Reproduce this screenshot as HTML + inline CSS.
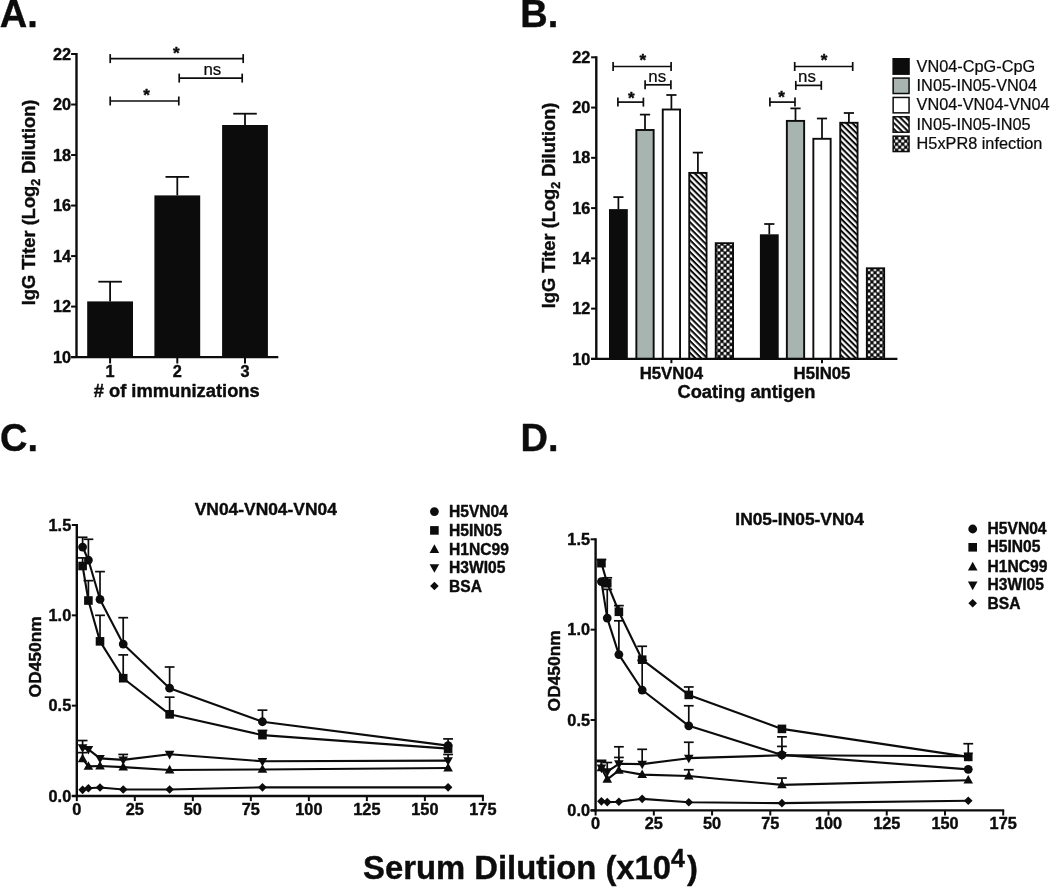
<!DOCTYPE html>
<html lang="en"><head><meta charset="utf-8"><title>Figure</title>
<style>html,body{margin:0;padding:0;background:#fff}body{width:1050px;height:887px;overflow:hidden}svg{display:block;will-change:transform;font-family:"Liberation Sans",sans-serif;fill:#0c0c0c}text{stroke:#0c0c0c;stroke-width:.4px;stroke-linejoin:round}text[font-weight=normal]{stroke-width:.22px}</style></head><body>
<svg width="1050" height="887" viewBox="0 0 1050 887">
<defs>
<pattern id="hatch" width="4.2" height="4.2" patternUnits="userSpaceOnUse" patternTransform="rotate(45)"><rect width="4.2" height="4.2" fill="#fff"/><rect width="4.2" height="2.05" fill="#0c0c0c"/></pattern>
<pattern id="chk1" width="6.09" height="6.09" patternUnits="userSpaceOnUse" x="717.4" y="248.5"><rect width="6.09" height="6.09" fill="#0c0c0c"/><rect x="0.2" y="0.2" width="2.645" height="2.645" fill="#fff"/><rect x="3.245" y="3.245" width="2.645" height="2.645" fill="#fff"/></pattern>
<pattern id="chk2" width="6.09" height="6.09" patternUnits="userSpaceOnUse" x="867.4" y="322.9"><rect width="6.09" height="6.09" fill="#0c0c0c"/><rect x="0.2" y="0.2" width="2.645" height="2.645" fill="#fff"/><rect x="3.245" y="3.245" width="2.645" height="2.645" fill="#fff"/></pattern>
<pattern id="chk3" width="6.09" height="6.09" patternUnits="userSpaceOnUse" x="895.1" y="139.6"><rect width="6.09" height="6.09" fill="#0c0c0c"/><rect x="0.2" y="0.2" width="2.645" height="2.645" fill="#fff"/><rect x="3.245" y="3.245" width="2.645" height="2.645" fill="#fff"/></pattern>
</defs>
<rect width="1050" height="887" fill="#ffffff"/>
<text x="-0.3" y="27" font-size="38" font-weight="bold" text-anchor="start">A.</text>
<text x="520.3" y="27.3" font-size="38" font-weight="bold" text-anchor="start">B.</text>
<text x="0" y="451" font-size="38" font-weight="bold" text-anchor="start">C.</text>
<text x="520.5" y="451.1" font-size="38" font-weight="bold" text-anchor="start">D.</text>
<line x1="110.1" y1="301.4" x2="110.1" y2="281.7" stroke="#0c0c0c" stroke-width="1.8" stroke-linecap="butt"/>
<line x1="98.3" y1="281.7" x2="121.9" y2="281.7" stroke="#0c0c0c" stroke-width="1.8" stroke-linecap="butt"/>
<rect x="87.2" y="301.4" width="45.8" height="55.7" fill="#0c0c0c"/>
<line x1="177.3" y1="195.4" x2="177.3" y2="176.9" stroke="#0c0c0c" stroke-width="1.8" stroke-linecap="butt"/>
<line x1="165.5" y1="176.9" x2="189.1" y2="176.9" stroke="#0c0c0c" stroke-width="1.8" stroke-linecap="butt"/>
<rect x="154.4" y="195.4" width="45.8" height="161.7" fill="#0c0c0c"/>
<line x1="245" y1="125" x2="245" y2="113.7" stroke="#0c0c0c" stroke-width="1.8" stroke-linecap="butt"/>
<line x1="233.2" y1="113.7" x2="256.8" y2="113.7" stroke="#0c0c0c" stroke-width="1.8" stroke-linecap="butt"/>
<rect x="222.1" y="125" width="45.8" height="232.1" fill="#0c0c0c"/>
<line x1="76.5" y1="53" x2="76.5" y2="358.1" stroke="#0c0c0c" stroke-width="2.4" stroke-linecap="butt"/>
<line x1="71.1" y1="357.1" x2="278.3" y2="357.1" stroke="#0c0c0c" stroke-width="2.4" stroke-linecap="butt"/>
<line x1="71.1" y1="357.1" x2="76.5" y2="357.1" stroke="#0c0c0c" stroke-width="2" stroke-linecap="butt"/>
<text x="71" y="362.7" font-size="16.3" font-weight="bold" text-anchor="end">10</text>
<line x1="71.1" y1="306.58" x2="76.5" y2="306.58" stroke="#0c0c0c" stroke-width="2" stroke-linecap="butt"/>
<text x="71" y="312.18" font-size="16.3" font-weight="bold" text-anchor="end">12</text>
<line x1="71.1" y1="256.07" x2="76.5" y2="256.07" stroke="#0c0c0c" stroke-width="2" stroke-linecap="butt"/>
<text x="71" y="261.67" font-size="16.3" font-weight="bold" text-anchor="end">14</text>
<line x1="71.1" y1="205.55" x2="76.5" y2="205.55" stroke="#0c0c0c" stroke-width="2" stroke-linecap="butt"/>
<text x="71" y="211.15" font-size="16.3" font-weight="bold" text-anchor="end">16</text>
<line x1="71.1" y1="155.03" x2="76.5" y2="155.03" stroke="#0c0c0c" stroke-width="2" stroke-linecap="butt"/>
<text x="71" y="160.63" font-size="16.3" font-weight="bold" text-anchor="end">18</text>
<line x1="71.1" y1="104.52" x2="76.5" y2="104.52" stroke="#0c0c0c" stroke-width="2" stroke-linecap="butt"/>
<text x="71" y="110.12" font-size="16.3" font-weight="bold" text-anchor="end">20</text>
<line x1="71.1" y1="54" x2="76.5" y2="54" stroke="#0c0c0c" stroke-width="2" stroke-linecap="butt"/>
<text x="71" y="59.6" font-size="16.3" font-weight="bold" text-anchor="end">22</text>
<line x1="110.1" y1="357.1" x2="110.1" y2="363.5" stroke="#0c0c0c" stroke-width="2" stroke-linecap="butt"/>
<text x="110.1" y="376.9" font-size="16.3" font-weight="bold" text-anchor="middle">1</text>
<line x1="177.3" y1="357.1" x2="177.3" y2="363.5" stroke="#0c0c0c" stroke-width="2" stroke-linecap="butt"/>
<text x="177.3" y="376.9" font-size="16.3" font-weight="bold" text-anchor="middle">2</text>
<line x1="245" y1="357.1" x2="245" y2="363.5" stroke="#0c0c0c" stroke-width="2" stroke-linecap="butt"/>
<text x="245" y="376.9" font-size="16.3" font-weight="bold" text-anchor="middle">3</text>
<text x="176.7" y="396.5" font-size="18.35" font-weight="bold" text-anchor="middle"># of immunizations</text>
<text transform="translate(34.6,202.4) rotate(-90)" font-size="18.3" font-weight="bold" text-anchor="middle">IgG Titer (Log<tspan font-size="12.5" dy="5.0">2</tspan><tspan dy="-5.0"> Dilution)</tspan></text>
<line x1="110.2" y1="58.6" x2="243.2" y2="58.6" stroke="#0c0c0c" stroke-width="1.7" stroke-linecap="butt"/>
<line x1="110.2" y1="54.1" x2="110.2" y2="63.1" stroke="#0c0c0c" stroke-width="1.7" stroke-linecap="butt"/>
<line x1="243.2" y1="54.1" x2="243.2" y2="63.1" stroke="#0c0c0c" stroke-width="1.7" stroke-linecap="butt"/>
<text x="176.2" y="58.9" font-size="17" font-weight="bold" text-anchor="middle">*</text>
<line x1="179.2" y1="78.1" x2="242.2" y2="78.1" stroke="#0c0c0c" stroke-width="1.7" stroke-linecap="butt"/>
<line x1="179.2" y1="73.6" x2="179.2" y2="82.6" stroke="#0c0c0c" stroke-width="1.7" stroke-linecap="butt"/>
<line x1="242.2" y1="73.6" x2="242.2" y2="82.6" stroke="#0c0c0c" stroke-width="1.7" stroke-linecap="butt"/>
<text x="212.4" y="74.7" font-size="16.9" font-weight="normal" text-anchor="middle">ns</text>
<line x1="110.2" y1="101" x2="178.8" y2="101" stroke="#0c0c0c" stroke-width="1.7" stroke-linecap="butt"/>
<line x1="110.2" y1="96.5" x2="110.2" y2="105.5" stroke="#0c0c0c" stroke-width="1.7" stroke-linecap="butt"/>
<line x1="178.8" y1="96.5" x2="178.8" y2="105.5" stroke="#0c0c0c" stroke-width="1.7" stroke-linecap="butt"/>
<text x="146.5" y="100.8" font-size="17" font-weight="bold" text-anchor="middle">*</text>
<line x1="618.4" y1="209.1" x2="618.4" y2="197.1" stroke="#0c0c0c" stroke-width="1.75" stroke-linecap="butt"/>
<line x1="613.3" y1="197.1" x2="623.5" y2="197.1" stroke="#0c0c0c" stroke-width="1.75" stroke-linecap="butt"/>
<rect x="609" y="209.1" width="18.8" height="149.8" fill="#0c0c0c"/>
<line x1="645" y1="129.4" x2="645" y2="114.6" stroke="#0c0c0c" stroke-width="1.75" stroke-linecap="butt"/>
<line x1="639.9" y1="114.6" x2="650.1" y2="114.6" stroke="#0c0c0c" stroke-width="1.75" stroke-linecap="butt"/>
<rect x="636.35" y="130" width="17.3" height="228.9" fill="#a8b4b0" stroke="#0c0c0c" stroke-width="1.9"/>
<line x1="671.4" y1="108.9" x2="671.4" y2="95" stroke="#0c0c0c" stroke-width="1.75" stroke-linecap="butt"/>
<line x1="666.3" y1="95" x2="676.5" y2="95" stroke="#0c0c0c" stroke-width="1.75" stroke-linecap="butt"/>
<rect x="662.75" y="109.5" width="17.3" height="249.4" fill="#ffffff" stroke="#0c0c0c" stroke-width="1.9"/>
<line x1="697.9" y1="172.3" x2="697.9" y2="152.6" stroke="#0c0c0c" stroke-width="1.75" stroke-linecap="butt"/>
<line x1="692.8" y1="152.6" x2="703" y2="152.6" stroke="#0c0c0c" stroke-width="1.75" stroke-linecap="butt"/>
<rect x="689.25" y="172.9" width="17.3" height="186" fill="url(#hatch)" stroke="#0c0c0c" stroke-width="1.9"/>
<rect x="715.75" y="243.2" width="17.3" height="115.7" fill="url(#chk1)" stroke="#0c0c0c" stroke-width="1.9"/>
<line x1="769.3" y1="234.3" x2="769.3" y2="224" stroke="#0c0c0c" stroke-width="1.75" stroke-linecap="butt"/>
<line x1="764.2" y1="224" x2="774.4" y2="224" stroke="#0c0c0c" stroke-width="1.75" stroke-linecap="butt"/>
<rect x="759.9" y="234.3" width="18.8" height="124.6" fill="#0c0c0c"/>
<line x1="795.5" y1="120.3" x2="795.5" y2="108.4" stroke="#0c0c0c" stroke-width="1.75" stroke-linecap="butt"/>
<line x1="790.4" y1="108.4" x2="800.6" y2="108.4" stroke="#0c0c0c" stroke-width="1.75" stroke-linecap="butt"/>
<rect x="786.85" y="120.9" width="17.3" height="238" fill="#a8b4b0" stroke="#0c0c0c" stroke-width="1.9"/>
<line x1="822" y1="138.2" x2="822" y2="118.5" stroke="#0c0c0c" stroke-width="1.75" stroke-linecap="butt"/>
<line x1="816.9" y1="118.5" x2="827.1" y2="118.5" stroke="#0c0c0c" stroke-width="1.75" stroke-linecap="butt"/>
<rect x="813.35" y="138.8" width="17.3" height="220.1" fill="#ffffff" stroke="#0c0c0c" stroke-width="1.9"/>
<line x1="848.9" y1="122.2" x2="848.9" y2="113" stroke="#0c0c0c" stroke-width="1.75" stroke-linecap="butt"/>
<line x1="843.8" y1="113" x2="854" y2="113" stroke="#0c0c0c" stroke-width="1.75" stroke-linecap="butt"/>
<rect x="840.25" y="122.8" width="17.3" height="236.1" fill="url(#hatch)" stroke="#0c0c0c" stroke-width="1.9"/>
<rect x="866.85" y="268.3" width="17.3" height="90.6" fill="url(#chk2)" stroke="#0c0c0c" stroke-width="1.9"/>
<line x1="596.3" y1="56.3" x2="596.3" y2="359.9" stroke="#0c0c0c" stroke-width="2.4" stroke-linecap="butt"/>
<line x1="591.1" y1="358.9" x2="897.4" y2="358.9" stroke="#0c0c0c" stroke-width="2.4" stroke-linecap="butt"/>
<line x1="591.1" y1="358.9" x2="596.3" y2="358.9" stroke="#0c0c0c" stroke-width="2" stroke-linecap="butt"/>
<text x="590.4" y="364.5" font-size="16.3" font-weight="bold" text-anchor="end">10</text>
<line x1="591.1" y1="308.63" x2="596.3" y2="308.63" stroke="#0c0c0c" stroke-width="2" stroke-linecap="butt"/>
<text x="590.4" y="314.23" font-size="16.3" font-weight="bold" text-anchor="end">12</text>
<line x1="591.1" y1="258.37" x2="596.3" y2="258.37" stroke="#0c0c0c" stroke-width="2" stroke-linecap="butt"/>
<text x="590.4" y="263.97" font-size="16.3" font-weight="bold" text-anchor="end">14</text>
<line x1="591.1" y1="208.1" x2="596.3" y2="208.1" stroke="#0c0c0c" stroke-width="2" stroke-linecap="butt"/>
<text x="590.4" y="213.7" font-size="16.3" font-weight="bold" text-anchor="end">16</text>
<line x1="591.1" y1="157.83" x2="596.3" y2="157.83" stroke="#0c0c0c" stroke-width="2" stroke-linecap="butt"/>
<text x="590.4" y="163.43" font-size="16.3" font-weight="bold" text-anchor="end">18</text>
<line x1="591.1" y1="107.57" x2="596.3" y2="107.57" stroke="#0c0c0c" stroke-width="2" stroke-linecap="butt"/>
<text x="590.4" y="113.17" font-size="16.3" font-weight="bold" text-anchor="end">20</text>
<line x1="591.1" y1="57.3" x2="596.3" y2="57.3" stroke="#0c0c0c" stroke-width="2" stroke-linecap="butt"/>
<text x="590.4" y="62.9" font-size="16.3" font-weight="bold" text-anchor="end">22</text>
<line x1="671.4" y1="358.9" x2="671.4" y2="363.2" stroke="#0c0c0c" stroke-width="2" stroke-linecap="butt"/>
<text x="671.4" y="379.2" font-size="16.8" font-weight="bold" text-anchor="middle">H5VN04</text>
<line x1="822" y1="358.9" x2="822" y2="363.2" stroke="#0c0c0c" stroke-width="2" stroke-linecap="butt"/>
<text x="822" y="379.2" font-size="16.8" font-weight="bold" text-anchor="middle">H5IN05</text>
<text x="746.4" y="397.6" font-size="18.25" font-weight="bold" text-anchor="middle">Coating antigen</text>
<text transform="translate(554.6,205.4) rotate(-90)" font-size="18.3" font-weight="bold" text-anchor="middle">IgG Titer (Log<tspan font-size="12.5" dy="5.0">2</tspan><tspan dy="-5.0"> Dilution)</tspan></text>
<line x1="613.1" y1="66.5" x2="671.1" y2="66.5" stroke="#0c0c0c" stroke-width="1.7" stroke-linecap="butt"/>
<line x1="613.1" y1="62" x2="613.1" y2="71" stroke="#0c0c0c" stroke-width="1.7" stroke-linecap="butt"/>
<line x1="671.1" y1="62" x2="671.1" y2="71" stroke="#0c0c0c" stroke-width="1.7" stroke-linecap="butt"/>
<text x="642.9" y="66.3" font-size="17" font-weight="bold" text-anchor="middle">*</text>
<line x1="645.1" y1="84.8" x2="670.9" y2="84.8" stroke="#0c0c0c" stroke-width="1.7" stroke-linecap="butt"/>
<line x1="645.1" y1="80.3" x2="645.1" y2="89.3" stroke="#0c0c0c" stroke-width="1.7" stroke-linecap="butt"/>
<line x1="670.9" y1="80.3" x2="670.9" y2="89.3" stroke="#0c0c0c" stroke-width="1.7" stroke-linecap="butt"/>
<text x="657.2" y="82.1" font-size="16.9" font-weight="normal" text-anchor="middle">ns</text>
<line x1="617.9" y1="102.1" x2="643.4" y2="102.1" stroke="#0c0c0c" stroke-width="1.7" stroke-linecap="butt"/>
<line x1="617.9" y1="97.6" x2="617.9" y2="106.6" stroke="#0c0c0c" stroke-width="1.7" stroke-linecap="butt"/>
<line x1="643.4" y1="97.6" x2="643.4" y2="106.6" stroke="#0c0c0c" stroke-width="1.7" stroke-linecap="butt"/>
<text x="631.4" y="104.4" font-size="17" font-weight="bold" text-anchor="middle">*</text>
<line x1="794.7" y1="66.5" x2="852.7" y2="66.5" stroke="#0c0c0c" stroke-width="1.7" stroke-linecap="butt"/>
<line x1="794.7" y1="62" x2="794.7" y2="71" stroke="#0c0c0c" stroke-width="1.7" stroke-linecap="butt"/>
<line x1="852.7" y1="62" x2="852.7" y2="71" stroke="#0c0c0c" stroke-width="1.7" stroke-linecap="butt"/>
<text x="824.1" y="66.3" font-size="17" font-weight="bold" text-anchor="middle">*</text>
<line x1="795.8" y1="85.4" x2="821.3" y2="85.4" stroke="#0c0c0c" stroke-width="1.7" stroke-linecap="butt"/>
<line x1="795.8" y1="80.9" x2="795.8" y2="89.9" stroke="#0c0c0c" stroke-width="1.7" stroke-linecap="butt"/>
<line x1="821.3" y1="80.9" x2="821.3" y2="89.9" stroke="#0c0c0c" stroke-width="1.7" stroke-linecap="butt"/>
<text x="807" y="82.1" font-size="16.9" font-weight="normal" text-anchor="middle">ns</text>
<line x1="769.9" y1="102.1" x2="795" y2="102.1" stroke="#0c0c0c" stroke-width="1.7" stroke-linecap="butt"/>
<line x1="769.9" y1="97.6" x2="769.9" y2="106.6" stroke="#0c0c0c" stroke-width="1.7" stroke-linecap="butt"/>
<line x1="795" y1="97.6" x2="795" y2="106.6" stroke="#0c0c0c" stroke-width="1.7" stroke-linecap="butt"/>
<text x="781.6" y="103.1" font-size="17" font-weight="bold" text-anchor="middle">*</text>
<rect x="893.15" y="58.75" width="15.9" height="15.4" fill="#0c0c0c" stroke="#0c0c0c" stroke-width="1.5"/>
<text x="916.6" y="71.5" font-size="16.3" font-weight="normal" text-anchor="start">VN04-CpG-CpG</text>
<rect x="893.15" y="78.1" width="15.9" height="15.4" fill="#a8b4b0" stroke="#0c0c0c" stroke-width="1.5"/>
<text x="916.6" y="90.85" font-size="16.3" font-weight="normal" text-anchor="start">IN05-IN05-VN04</text>
<rect x="893.15" y="97.45" width="15.9" height="15.4" fill="#ffffff" stroke="#0c0c0c" stroke-width="1.5"/>
<text x="916.6" y="110.2" font-size="16.3" font-weight="normal" text-anchor="start">VN04-VN04-VN04</text>
<rect x="893.15" y="116.8" width="15.9" height="15.4" fill="url(#hatch)" stroke="#0c0c0c" stroke-width="1.5"/>
<text x="916.6" y="129.55" font-size="16.3" font-weight="normal" text-anchor="start">IN05-IN05-IN05</text>
<rect x="893.15" y="136.15" width="15.9" height="15.4" fill="url(#chk3)" stroke="#0c0c0c" stroke-width="1.5"/>
<text x="916.6" y="148.9" font-size="16.3" font-weight="normal" text-anchor="start">H5xPR8 infection</text>
<line x1="82.6" y1="747.76" x2="82.6" y2="740.54" stroke="#0c0c0c" stroke-width="1.7" stroke-linecap="butt"/>
<line x1="77.7" y1="740.54" x2="87.5" y2="740.54" stroke="#0c0c0c" stroke-width="1.7" stroke-linecap="butt"/>
<line x1="123.21" y1="759.87" x2="123.21" y2="754.45" stroke="#0c0c0c" stroke-width="1.7" stroke-linecap="butt"/>
<line x1="118.31" y1="754.45" x2="128.11" y2="754.45" stroke="#0c0c0c" stroke-width="1.7" stroke-linecap="butt"/>
<line x1="448.09" y1="760.59" x2="448.09" y2="754.45" stroke="#0c0c0c" stroke-width="1.7" stroke-linecap="butt"/>
<line x1="443.19" y1="754.45" x2="452.99" y2="754.45" stroke="#0c0c0c" stroke-width="1.7" stroke-linecap="butt"/>
<line x1="82.6" y1="758.96" x2="82.6" y2="752.64" stroke="#0c0c0c" stroke-width="1.7" stroke-linecap="butt"/>
<line x1="77.7" y1="752.64" x2="87.5" y2="752.64" stroke="#0c0c0c" stroke-width="1.7" stroke-linecap="butt"/>
<line x1="82.6" y1="566.01" x2="82.6" y2="557.88" stroke="#0c0c0c" stroke-width="1.7" stroke-linecap="butt"/>
<line x1="77.7" y1="557.88" x2="87.5" y2="557.88" stroke="#0c0c0c" stroke-width="1.7" stroke-linecap="butt"/>
<line x1="88.4" y1="600.52" x2="88.4" y2="580.65" stroke="#0c0c0c" stroke-width="1.7" stroke-linecap="butt"/>
<line x1="83.5" y1="580.65" x2="93.3" y2="580.65" stroke="#0c0c0c" stroke-width="1.7" stroke-linecap="butt"/>
<line x1="100.01" y1="641.35" x2="100.01" y2="615.33" stroke="#0c0c0c" stroke-width="1.7" stroke-linecap="butt"/>
<line x1="95.11" y1="615.33" x2="104.91" y2="615.33" stroke="#0c0c0c" stroke-width="1.7" stroke-linecap="butt"/>
<line x1="123.21" y1="678.21" x2="123.21" y2="654.9" stroke="#0c0c0c" stroke-width="1.7" stroke-linecap="butt"/>
<line x1="118.31" y1="654.9" x2="128.11" y2="654.9" stroke="#0c0c0c" stroke-width="1.7" stroke-linecap="butt"/>
<line x1="169.62" y1="714.34" x2="169.62" y2="697.18" stroke="#0c0c0c" stroke-width="1.7" stroke-linecap="butt"/>
<line x1="164.72" y1="697.18" x2="174.52" y2="697.18" stroke="#0c0c0c" stroke-width="1.7" stroke-linecap="butt"/>
<line x1="262.45" y1="735.12" x2="262.45" y2="730.42" stroke="#0c0c0c" stroke-width="1.7" stroke-linecap="butt"/>
<line x1="257.55" y1="730.42" x2="267.35" y2="730.42" stroke="#0c0c0c" stroke-width="1.7" stroke-linecap="butt"/>
<line x1="82.6" y1="547.04" x2="82.6" y2="537.29" stroke="#0c0c0c" stroke-width="1.7" stroke-linecap="butt"/>
<line x1="77.7" y1="537.29" x2="87.5" y2="537.29" stroke="#0c0c0c" stroke-width="1.7" stroke-linecap="butt"/>
<line x1="88.4" y1="560.05" x2="88.4" y2="539.27" stroke="#0c0c0c" stroke-width="1.7" stroke-linecap="butt"/>
<line x1="83.5" y1="539.27" x2="93.3" y2="539.27" stroke="#0c0c0c" stroke-width="1.7" stroke-linecap="butt"/>
<line x1="100.01" y1="599.43" x2="100.01" y2="571.61" stroke="#0c0c0c" stroke-width="1.7" stroke-linecap="butt"/>
<line x1="95.11" y1="571.61" x2="104.91" y2="571.61" stroke="#0c0c0c" stroke-width="1.7" stroke-linecap="butt"/>
<line x1="123.21" y1="644.06" x2="123.21" y2="617.68" stroke="#0c0c0c" stroke-width="1.7" stroke-linecap="butt"/>
<line x1="118.31" y1="617.68" x2="128.11" y2="617.68" stroke="#0c0c0c" stroke-width="1.7" stroke-linecap="butt"/>
<line x1="169.62" y1="688.14" x2="169.62" y2="667" stroke="#0c0c0c" stroke-width="1.7" stroke-linecap="butt"/>
<line x1="164.72" y1="667" x2="174.52" y2="667" stroke="#0c0c0c" stroke-width="1.7" stroke-linecap="butt"/>
<line x1="262.45" y1="721.75" x2="262.45" y2="710.18" stroke="#0c0c0c" stroke-width="1.7" stroke-linecap="butt"/>
<line x1="257.55" y1="710.18" x2="267.35" y2="710.18" stroke="#0c0c0c" stroke-width="1.7" stroke-linecap="butt"/>
<line x1="448.09" y1="745.59" x2="448.09" y2="738.91" stroke="#0c0c0c" stroke-width="1.7" stroke-linecap="butt"/>
<line x1="443.19" y1="738.91" x2="452.99" y2="738.91" stroke="#0c0c0c" stroke-width="1.7" stroke-linecap="butt"/>
<polyline points="82.6,747.76 88.4,749.39 100.01,758.42 123.21,759.87 169.62,754.27 262.45,761.31 448.09,760.59" fill="none" stroke="#0c0c0c" stroke-width="2.1" stroke-linejoin="round"/>
<path d="M82.6 752.96L87.4 744.36H77.8Z" fill="#0c0c0c"/>
<path d="M88.4 754.59L93.2 745.99H83.6Z" fill="#0c0c0c"/>
<path d="M100.01 763.62L104.81 755.02H95.21Z" fill="#0c0c0c"/>
<path d="M123.21 765.07L128.01 756.47H118.41Z" fill="#0c0c0c"/>
<path d="M169.62 759.47L174.42 750.87H164.82Z" fill="#0c0c0c"/>
<path d="M262.45 766.51L267.25 757.91H257.65Z" fill="#0c0c0c"/>
<path d="M448.09 765.79L452.89 757.19H443.29Z" fill="#0c0c0c"/>
<polyline points="82.6,758.96 88.4,766.37 100.01,766.01 123.21,767.09 169.62,769.98 262.45,769.44 448.09,768" fill="none" stroke="#0c0c0c" stroke-width="2.1" stroke-linejoin="round"/>
<path d="M82.6 753.76L87.4 762.36H77.8Z" fill="#0c0c0c"/>
<path d="M88.4 761.17L93.2 769.77H83.6Z" fill="#0c0c0c"/>
<path d="M100.01 760.81L104.81 769.41H95.21Z" fill="#0c0c0c"/>
<path d="M123.21 761.89L128.01 770.49H118.41Z" fill="#0c0c0c"/>
<path d="M169.62 764.78L174.42 773.38H164.82Z" fill="#0c0c0c"/>
<path d="M262.45 764.24L267.25 772.84H257.65Z" fill="#0c0c0c"/>
<path d="M448.09 762.8L452.89 771.4H443.29Z" fill="#0c0c0c"/>
<polyline points="82.6,789.86 88.4,788.23 100.01,787.51 123.21,789.5 169.62,789.5 262.45,787.33 448.09,787.33" fill="none" stroke="#0c0c0c" stroke-width="2.1" stroke-linejoin="round"/>
<path d="M82.6 785.56L86.9 789.86L82.6 794.16L78.3 789.86Z" fill="#0c0c0c"/>
<path d="M88.4 783.93L92.7 788.23L88.4 792.53L84.1 788.23Z" fill="#0c0c0c"/>
<path d="M100.01 783.21L104.31 787.51L100.01 791.81L95.71 787.51Z" fill="#0c0c0c"/>
<path d="M123.21 785.2L127.51 789.5L123.21 793.8L118.91 789.5Z" fill="#0c0c0c"/>
<path d="M169.62 785.2L173.92 789.5L169.62 793.8L165.32 789.5Z" fill="#0c0c0c"/>
<path d="M262.45 783.03L266.75 787.33L262.45 791.63L258.15 787.33Z" fill="#0c0c0c"/>
<path d="M448.09 783.03L452.39 787.33L448.09 791.63L443.79 787.33Z" fill="#0c0c0c"/>
<polyline points="82.6,566.01 88.4,600.52 100.01,641.35 123.21,678.21 169.62,714.34 262.45,735.12 448.09,748.67" fill="none" stroke="#0c0c0c" stroke-width="2.1" stroke-linejoin="round"/>
<rect x="78.3" y="561.71" width="8.6" height="8.6" fill="#0c0c0c"/>
<rect x="84.1" y="596.22" width="8.6" height="8.6" fill="#0c0c0c"/>
<rect x="95.71" y="637.05" width="8.6" height="8.6" fill="#0c0c0c"/>
<rect x="118.91" y="673.91" width="8.6" height="8.6" fill="#0c0c0c"/>
<rect x="165.32" y="710.04" width="8.6" height="8.6" fill="#0c0c0c"/>
<rect x="258.15" y="730.82" width="8.6" height="8.6" fill="#0c0c0c"/>
<rect x="443.79" y="744.37" width="8.6" height="8.6" fill="#0c0c0c"/>
<polyline points="82.6,547.04 88.4,560.05 100.01,599.43 123.21,644.06 169.62,688.14 262.45,721.75 448.09,745.59" fill="none" stroke="#0c0c0c" stroke-width="2.1" stroke-linejoin="round"/>
<circle cx="82.6" cy="547.04" r="4.4" fill="#0c0c0c"/>
<circle cx="88.4" cy="560.05" r="4.4" fill="#0c0c0c"/>
<circle cx="100.01" cy="599.43" r="4.4" fill="#0c0c0c"/>
<circle cx="123.21" cy="644.06" r="4.4" fill="#0c0c0c"/>
<circle cx="169.62" cy="688.14" r="4.4" fill="#0c0c0c"/>
<circle cx="262.45" cy="721.75" r="4.4" fill="#0c0c0c"/>
<circle cx="448.09" cy="745.59" r="4.4" fill="#0c0c0c"/>
<line x1="76.8" y1="524" x2="76.8" y2="797" stroke="#0c0c0c" stroke-width="2.4" stroke-linecap="butt"/>
<line x1="71.8" y1="796" x2="483.9" y2="796" stroke="#0c0c0c" stroke-width="2.4" stroke-linecap="butt"/>
<line x1="71.8" y1="796" x2="76.8" y2="796" stroke="#0c0c0c" stroke-width="2" stroke-linecap="butt"/>
<text x="71.2" y="801.6" font-size="16.3" font-weight="bold" text-anchor="end">0.0</text>
<line x1="71.8" y1="705.67" x2="76.8" y2="705.67" stroke="#0c0c0c" stroke-width="2" stroke-linecap="butt"/>
<text x="71.2" y="711.27" font-size="16.3" font-weight="bold" text-anchor="end">0.5</text>
<line x1="71.8" y1="615.33" x2="76.8" y2="615.33" stroke="#0c0c0c" stroke-width="2" stroke-linecap="butt"/>
<text x="71.2" y="620.93" font-size="16.3" font-weight="bold" text-anchor="end">1.0</text>
<line x1="71.8" y1="525" x2="76.8" y2="525" stroke="#0c0c0c" stroke-width="2" stroke-linecap="butt"/>
<text x="71.2" y="530.6" font-size="16.3" font-weight="bold" text-anchor="end">1.5</text>
<line x1="76.8" y1="796" x2="76.8" y2="801.1" stroke="#0c0c0c" stroke-width="2" stroke-linecap="butt"/>
<text x="76.8" y="814.7" font-size="16.3" font-weight="bold" text-anchor="middle">0</text>
<line x1="134.81" y1="796" x2="134.81" y2="801.1" stroke="#0c0c0c" stroke-width="2" stroke-linecap="butt"/>
<text x="134.81" y="814.7" font-size="16.3" font-weight="bold" text-anchor="middle">25</text>
<line x1="192.83" y1="796" x2="192.83" y2="801.1" stroke="#0c0c0c" stroke-width="2" stroke-linecap="butt"/>
<text x="192.83" y="814.7" font-size="16.3" font-weight="bold" text-anchor="middle">50</text>
<line x1="250.84" y1="796" x2="250.84" y2="801.1" stroke="#0c0c0c" stroke-width="2" stroke-linecap="butt"/>
<text x="250.84" y="814.7" font-size="16.3" font-weight="bold" text-anchor="middle">75</text>
<line x1="308.86" y1="796" x2="308.86" y2="801.1" stroke="#0c0c0c" stroke-width="2" stroke-linecap="butt"/>
<text x="308.86" y="814.7" font-size="16.3" font-weight="bold" text-anchor="middle">100</text>
<line x1="366.87" y1="796" x2="366.87" y2="801.1" stroke="#0c0c0c" stroke-width="2" stroke-linecap="butt"/>
<text x="366.87" y="814.7" font-size="16.3" font-weight="bold" text-anchor="middle">125</text>
<line x1="424.89" y1="796" x2="424.89" y2="801.1" stroke="#0c0c0c" stroke-width="2" stroke-linecap="butt"/>
<text x="424.89" y="814.7" font-size="16.3" font-weight="bold" text-anchor="middle">150</text>
<line x1="482.9" y1="796" x2="482.9" y2="801.1" stroke="#0c0c0c" stroke-width="2" stroke-linecap="butt"/>
<text x="482.9" y="814.7" font-size="16.3" font-weight="bold" text-anchor="middle">175</text>
<text x="265.8" y="514.8" font-size="17.4" font-weight="bold" text-anchor="middle">VN04-VN04-VN04</text>
<text transform="translate(41,656.8) rotate(-90)" font-size="17.4" font-weight="bold" text-anchor="middle">OD450nm</text>
<circle cx="434.4" cy="511.6" r="4.4" fill="#0c0c0c"/>
<text x="449" y="516.9" font-size="15.6" font-weight="bold" text-anchor="start">H5VN04</text>
<rect x="430.1" y="526.1" width="8.6" height="8.6" fill="#0c0c0c"/>
<text x="449" y="535.6" font-size="15.6" font-weight="bold" text-anchor="start">H5IN05</text>
<path d="M434.4 544.3L439.2 552.9H429.6Z" fill="#0c0c0c"/>
<text x="449" y="554.6" font-size="15.6" font-weight="bold" text-anchor="start">H1NC99</text>
<path d="M434.4 572.8L439.2 564.2H429.6Z" fill="#0c0c0c"/>
<text x="449" y="573" font-size="15.6" font-weight="bold" text-anchor="start">H3WI05</text>
<path d="M434.4 581.7L438.7 586L434.4 590.3L430.1 586Z" fill="#0c0c0c"/>
<text x="449" y="591.5" font-size="15.6" font-weight="bold" text-anchor="start">BSA</text>
<line x1="601.42" y1="767.93" x2="601.42" y2="760.34" stroke="#0c0c0c" stroke-width="1.7" stroke-linecap="butt"/>
<line x1="596.52" y1="760.34" x2="606.32" y2="760.34" stroke="#0c0c0c" stroke-width="1.7" stroke-linecap="butt"/>
<line x1="607.25" y1="771.54" x2="607.25" y2="762.51" stroke="#0c0c0c" stroke-width="1.7" stroke-linecap="butt"/>
<line x1="602.35" y1="762.51" x2="612.15" y2="762.51" stroke="#0c0c0c" stroke-width="1.7" stroke-linecap="butt"/>
<line x1="618.89" y1="763.77" x2="618.89" y2="746.78" stroke="#0c0c0c" stroke-width="1.7" stroke-linecap="butt"/>
<line x1="613.99" y1="746.78" x2="623.79" y2="746.78" stroke="#0c0c0c" stroke-width="1.7" stroke-linecap="butt"/>
<line x1="642.18" y1="764.13" x2="642.18" y2="749.31" stroke="#0c0c0c" stroke-width="1.7" stroke-linecap="butt"/>
<line x1="637.28" y1="749.31" x2="647.08" y2="749.31" stroke="#0c0c0c" stroke-width="1.7" stroke-linecap="butt"/>
<line x1="688.77" y1="758.17" x2="688.77" y2="742.26" stroke="#0c0c0c" stroke-width="1.7" stroke-linecap="butt"/>
<line x1="683.87" y1="742.26" x2="693.67" y2="742.26" stroke="#0c0c0c" stroke-width="1.7" stroke-linecap="butt"/>
<line x1="781.93" y1="755.28" x2="781.93" y2="746.42" stroke="#0c0c0c" stroke-width="1.7" stroke-linecap="butt"/>
<line x1="777.03" y1="746.42" x2="786.83" y2="746.42" stroke="#0c0c0c" stroke-width="1.7" stroke-linecap="butt"/>
<line x1="601.42" y1="767.93" x2="601.42" y2="761.6" stroke="#0c0c0c" stroke-width="1.7" stroke-linecap="butt"/>
<line x1="596.52" y1="761.6" x2="606.32" y2="761.6" stroke="#0c0c0c" stroke-width="1.7" stroke-linecap="butt"/>
<line x1="618.89" y1="770.46" x2="618.89" y2="757.45" stroke="#0c0c0c" stroke-width="1.7" stroke-linecap="butt"/>
<line x1="613.99" y1="757.45" x2="623.79" y2="757.45" stroke="#0c0c0c" stroke-width="1.7" stroke-linecap="butt"/>
<line x1="688.77" y1="776.06" x2="688.77" y2="769.74" stroke="#0c0c0c" stroke-width="1.7" stroke-linecap="butt"/>
<line x1="683.87" y1="769.74" x2="693.67" y2="769.74" stroke="#0c0c0c" stroke-width="1.7" stroke-linecap="butt"/>
<line x1="781.93" y1="784.92" x2="781.93" y2="778.05" stroke="#0c0c0c" stroke-width="1.7" stroke-linecap="butt"/>
<line x1="777.03" y1="778.05" x2="786.83" y2="778.05" stroke="#0c0c0c" stroke-width="1.7" stroke-linecap="butt"/>
<line x1="607.25" y1="618.1" x2="607.25" y2="589.36" stroke="#0c0c0c" stroke-width="1.7" stroke-linecap="butt"/>
<line x1="602.35" y1="589.36" x2="612.15" y2="589.36" stroke="#0c0c0c" stroke-width="1.7" stroke-linecap="butt"/>
<line x1="618.89" y1="654.61" x2="618.89" y2="620.81" stroke="#0c0c0c" stroke-width="1.7" stroke-linecap="butt"/>
<line x1="613.99" y1="620.81" x2="623.79" y2="620.81" stroke="#0c0c0c" stroke-width="1.7" stroke-linecap="butt"/>
<line x1="642.18" y1="690.03" x2="642.18" y2="660.39" stroke="#0c0c0c" stroke-width="1.7" stroke-linecap="butt"/>
<line x1="637.28" y1="660.39" x2="647.08" y2="660.39" stroke="#0c0c0c" stroke-width="1.7" stroke-linecap="butt"/>
<line x1="688.77" y1="725.82" x2="688.77" y2="705.76" stroke="#0c0c0c" stroke-width="1.7" stroke-linecap="butt"/>
<line x1="683.87" y1="705.76" x2="693.67" y2="705.76" stroke="#0c0c0c" stroke-width="1.7" stroke-linecap="butt"/>
<line x1="781.93" y1="754.91" x2="781.93" y2="736.84" stroke="#0c0c0c" stroke-width="1.7" stroke-linecap="butt"/>
<line x1="777.03" y1="736.84" x2="786.83" y2="736.84" stroke="#0c0c0c" stroke-width="1.7" stroke-linecap="butt"/>
<line x1="601.42" y1="563.16" x2="601.42" y2="559.54" stroke="#0c0c0c" stroke-width="1.7" stroke-linecap="butt"/>
<line x1="596.52" y1="559.54" x2="606.32" y2="559.54" stroke="#0c0c0c" stroke-width="1.7" stroke-linecap="butt"/>
<line x1="607.25" y1="583.22" x2="607.25" y2="577.8" stroke="#0c0c0c" stroke-width="1.7" stroke-linecap="butt"/>
<line x1="602.35" y1="577.8" x2="612.15" y2="577.8" stroke="#0c0c0c" stroke-width="1.7" stroke-linecap="butt"/>
<line x1="618.89" y1="611.77" x2="618.89" y2="605.63" stroke="#0c0c0c" stroke-width="1.7" stroke-linecap="butt"/>
<line x1="613.99" y1="605.63" x2="623.79" y2="605.63" stroke="#0c0c0c" stroke-width="1.7" stroke-linecap="butt"/>
<line x1="642.18" y1="659.67" x2="642.18" y2="646.29" stroke="#0c0c0c" stroke-width="1.7" stroke-linecap="butt"/>
<line x1="637.28" y1="646.29" x2="647.08" y2="646.29" stroke="#0c0c0c" stroke-width="1.7" stroke-linecap="butt"/>
<line x1="688.77" y1="694.91" x2="688.77" y2="686.96" stroke="#0c0c0c" stroke-width="1.7" stroke-linecap="butt"/>
<line x1="683.87" y1="686.96" x2="693.67" y2="686.96" stroke="#0c0c0c" stroke-width="1.7" stroke-linecap="butt"/>
<line x1="968.26" y1="756.9" x2="968.26" y2="743.71" stroke="#0c0c0c" stroke-width="1.7" stroke-linecap="butt"/>
<line x1="963.36" y1="743.71" x2="973.16" y2="743.71" stroke="#0c0c0c" stroke-width="1.7" stroke-linecap="butt"/>
<polyline points="601.42,767.93 607.25,771.54 618.89,763.77 642.18,764.13 688.77,758.17 781.93,755.28 968.26,756.18" fill="none" stroke="#0c0c0c" stroke-width="2.1" stroke-linejoin="round"/>
<path d="M601.42 773.13L606.22 764.53H596.62Z" fill="#0c0c0c"/>
<path d="M607.25 776.74L612.05 768.14H602.45Z" fill="#0c0c0c"/>
<path d="M618.89 768.97L623.69 760.37H614.09Z" fill="#0c0c0c"/>
<path d="M642.18 769.33L646.98 760.73H637.38Z" fill="#0c0c0c"/>
<path d="M688.77 763.37L693.57 754.77H683.97Z" fill="#0c0c0c"/>
<path d="M781.93 760.48L786.73 751.88H777.13Z" fill="#0c0c0c"/>
<path d="M968.26 761.38L973.06 752.78H963.46Z" fill="#0c0c0c"/>
<polyline points="601.42,767.93 607.25,779.31 618.89,770.46 642.18,774.61 688.77,776.06 781.93,784.92 968.26,780.22" fill="none" stroke="#0c0c0c" stroke-width="2.1" stroke-linejoin="round"/>
<path d="M601.42 762.73L606.22 771.33H596.62Z" fill="#0c0c0c"/>
<path d="M607.25 774.11L612.05 782.71H602.45Z" fill="#0c0c0c"/>
<path d="M618.89 765.26L623.69 773.86H614.09Z" fill="#0c0c0c"/>
<path d="M642.18 769.41L646.98 778.01H637.38Z" fill="#0c0c0c"/>
<path d="M688.77 770.86L693.57 779.46H683.97Z" fill="#0c0c0c"/>
<path d="M781.93 779.72L786.73 788.32H777.13Z" fill="#0c0c0c"/>
<path d="M968.26 775.02L973.06 783.62H963.46Z" fill="#0c0c0c"/>
<polyline points="601.42,801.36 607.25,802.09 618.89,801.72 642.18,798.83 688.77,802.27 781.93,803.17 968.26,800.82" fill="none" stroke="#0c0c0c" stroke-width="2.1" stroke-linejoin="round"/>
<path d="M601.42 797.06L605.72 801.36L601.42 805.66L597.12 801.36Z" fill="#0c0c0c"/>
<path d="M607.25 797.79L611.55 802.09L607.25 806.39L602.95 802.09Z" fill="#0c0c0c"/>
<path d="M618.89 797.42L623.19 801.72L618.89 806.02L614.59 801.72Z" fill="#0c0c0c"/>
<path d="M642.18 794.53L646.48 798.83L642.18 803.13L637.88 798.83Z" fill="#0c0c0c"/>
<path d="M688.77 797.97L693.07 802.27L688.77 806.57L684.47 802.27Z" fill="#0c0c0c"/>
<path d="M781.93 798.87L786.23 803.17L781.93 807.47L777.63 803.17Z" fill="#0c0c0c"/>
<path d="M968.26 796.52L972.56 800.82L968.26 805.12L963.96 800.82Z" fill="#0c0c0c"/>
<polyline points="601.42,581.59 607.25,618.1 618.89,654.61 642.18,690.03 688.77,725.82 781.93,754.91 968.26,769.37" fill="none" stroke="#0c0c0c" stroke-width="2.1" stroke-linejoin="round"/>
<circle cx="601.42" cy="581.59" r="4.4" fill="#0c0c0c"/>
<circle cx="607.25" cy="618.1" r="4.4" fill="#0c0c0c"/>
<circle cx="618.89" cy="654.61" r="4.4" fill="#0c0c0c"/>
<circle cx="642.18" cy="690.03" r="4.4" fill="#0c0c0c"/>
<circle cx="688.77" cy="725.82" r="4.4" fill="#0c0c0c"/>
<circle cx="781.93" cy="754.91" r="4.4" fill="#0c0c0c"/>
<circle cx="968.26" cy="769.37" r="4.4" fill="#0c0c0c"/>
<polyline points="601.42,563.16 607.25,583.22 618.89,611.77 642.18,659.67 688.77,694.91 781.93,728.89 968.26,756.9" fill="none" stroke="#0c0c0c" stroke-width="2.1" stroke-linejoin="round"/>
<rect x="597.12" y="558.86" width="8.6" height="8.6" fill="#0c0c0c"/>
<rect x="602.95" y="578.92" width="8.6" height="8.6" fill="#0c0c0c"/>
<rect x="614.59" y="607.47" width="8.6" height="8.6" fill="#0c0c0c"/>
<rect x="637.88" y="655.37" width="8.6" height="8.6" fill="#0c0c0c"/>
<rect x="684.47" y="690.61" width="8.6" height="8.6" fill="#0c0c0c"/>
<rect x="777.63" y="724.59" width="8.6" height="8.6" fill="#0c0c0c"/>
<rect x="963.96" y="752.6" width="8.6" height="8.6" fill="#0c0c0c"/>
<line x1="595.6" y1="538.3" x2="595.6" y2="811.4" stroke="#0c0c0c" stroke-width="2.4" stroke-linecap="butt"/>
<line x1="590.6" y1="810.4" x2="1004.2" y2="810.4" stroke="#0c0c0c" stroke-width="2.4" stroke-linecap="butt"/>
<line x1="590.6" y1="810.4" x2="595.6" y2="810.4" stroke="#0c0c0c" stroke-width="2" stroke-linecap="butt"/>
<text x="590" y="816" font-size="16.3" font-weight="bold" text-anchor="end">0.0</text>
<line x1="590.6" y1="720.03" x2="595.6" y2="720.03" stroke="#0c0c0c" stroke-width="2" stroke-linecap="butt"/>
<text x="590" y="725.63" font-size="16.3" font-weight="bold" text-anchor="end">0.5</text>
<line x1="590.6" y1="629.67" x2="595.6" y2="629.67" stroke="#0c0c0c" stroke-width="2" stroke-linecap="butt"/>
<text x="590" y="635.27" font-size="16.3" font-weight="bold" text-anchor="end">1.0</text>
<line x1="590.6" y1="539.3" x2="595.6" y2="539.3" stroke="#0c0c0c" stroke-width="2" stroke-linecap="butt"/>
<text x="590" y="544.9" font-size="16.3" font-weight="bold" text-anchor="end">1.5</text>
<line x1="595.6" y1="810.4" x2="595.6" y2="815.5" stroke="#0c0c0c" stroke-width="2" stroke-linecap="butt"/>
<text x="595.6" y="829.1" font-size="16.3" font-weight="bold" text-anchor="middle">0</text>
<line x1="653.83" y1="810.4" x2="653.83" y2="815.5" stroke="#0c0c0c" stroke-width="2" stroke-linecap="butt"/>
<text x="653.83" y="829.1" font-size="16.3" font-weight="bold" text-anchor="middle">25</text>
<line x1="712.06" y1="810.4" x2="712.06" y2="815.5" stroke="#0c0c0c" stroke-width="2" stroke-linecap="butt"/>
<text x="712.06" y="829.1" font-size="16.3" font-weight="bold" text-anchor="middle">50</text>
<line x1="770.29" y1="810.4" x2="770.29" y2="815.5" stroke="#0c0c0c" stroke-width="2" stroke-linecap="butt"/>
<text x="770.29" y="829.1" font-size="16.3" font-weight="bold" text-anchor="middle">75</text>
<line x1="828.51" y1="810.4" x2="828.51" y2="815.5" stroke="#0c0c0c" stroke-width="2" stroke-linecap="butt"/>
<text x="828.51" y="829.1" font-size="16.3" font-weight="bold" text-anchor="middle">100</text>
<line x1="886.74" y1="810.4" x2="886.74" y2="815.5" stroke="#0c0c0c" stroke-width="2" stroke-linecap="butt"/>
<text x="886.74" y="829.1" font-size="16.3" font-weight="bold" text-anchor="middle">125</text>
<line x1="944.97" y1="810.4" x2="944.97" y2="815.5" stroke="#0c0c0c" stroke-width="2" stroke-linecap="butt"/>
<text x="944.97" y="829.1" font-size="16.3" font-weight="bold" text-anchor="middle">150</text>
<line x1="1003.2" y1="810.4" x2="1003.2" y2="815.5" stroke="#0c0c0c" stroke-width="2" stroke-linecap="butt"/>
<text x="1003.2" y="829.1" font-size="16.3" font-weight="bold" text-anchor="middle">175</text>
<text x="799.6" y="525.3" font-size="17.4" font-weight="bold" text-anchor="middle">IN05-IN05-VN04</text>
<text transform="translate(559.8,670.8) rotate(-90)" font-size="17.4" font-weight="bold" text-anchor="middle">OD450nm</text>
<circle cx="972.7" cy="529" r="4.4" fill="#0c0c0c"/>
<text x="987.6" y="534.2" font-size="15.6" font-weight="bold" text-anchor="start">H5VN04</text>
<rect x="968.4" y="543" width="8.6" height="8.6" fill="#0c0c0c"/>
<text x="987.6" y="552.4" font-size="15.6" font-weight="bold" text-anchor="start">H5IN05</text>
<path d="M972.7 561.8L977.5 570.4H967.9Z" fill="#0c0c0c"/>
<text x="987.6" y="571.5" font-size="15.6" font-weight="bold" text-anchor="start">H1NC99</text>
<path d="M972.7 590.2L977.5 581.6H967.9Z" fill="#0c0c0c"/>
<text x="987.6" y="590" font-size="15.6" font-weight="bold" text-anchor="start">H3WI05</text>
<path d="M972.7 599L977 603.3L972.7 607.6L968.4 603.3Z" fill="#0c0c0c"/>
<text x="987.6" y="608.5" font-size="15.6" font-weight="bold" text-anchor="start">BSA</text>
<text x="363.1" y="879.4" font-size="32.8" font-weight="bold">Serum Dilution (x10<tspan font-size="25" dy="-12.6">4</tspan><tspan dy="12.6" dx="2">)</tspan></text>
</svg></body></html>
